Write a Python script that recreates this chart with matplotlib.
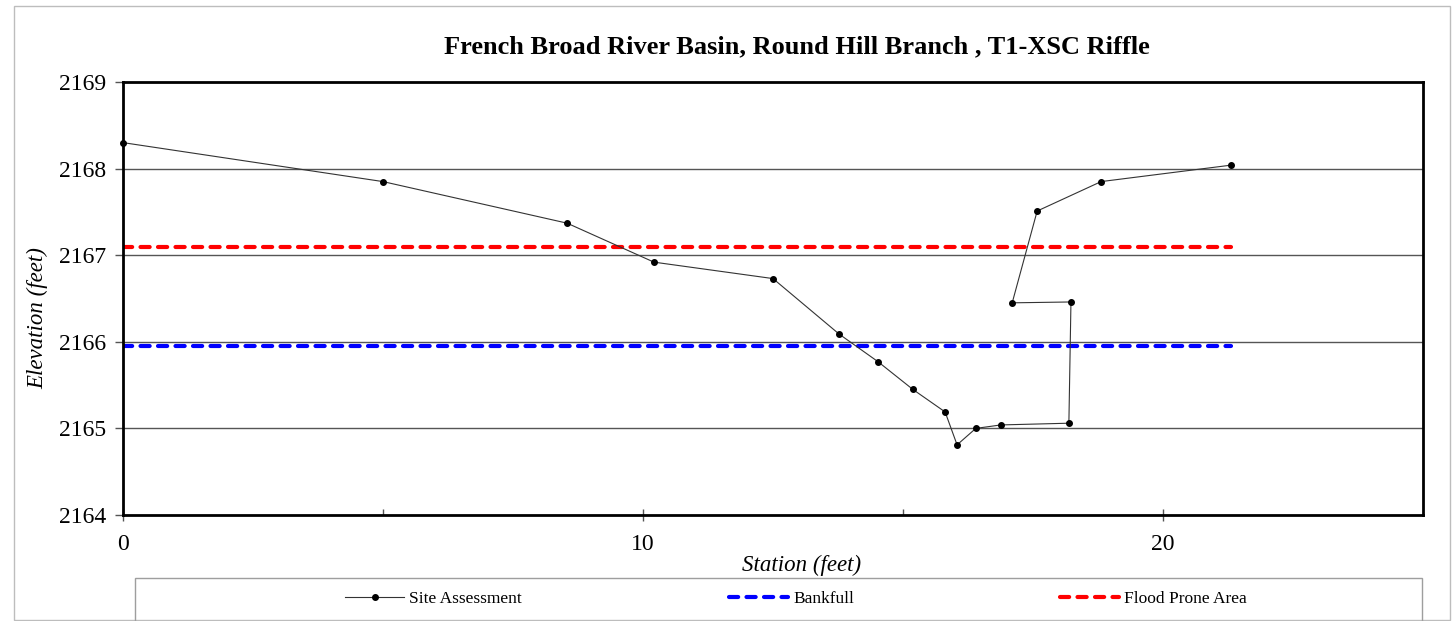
import matplotlib
matplotlib.use("Agg")
import matplotlib.pyplot as plt
from matplotlib.patches import Rectangle
from matplotlib.lines import Line2D

# Cross-section survey points (station, elevation)
station = [0.0, 5.0, 8.54, 10.21, 12.5, 13.77, 14.52, 15.19, 15.81, 16.04,
           16.40, 16.88, 18.19, 18.23, 17.10, 17.58, 18.81, 21.31]
elevation = [2168.30, 2167.85, 2167.37, 2166.92, 2166.73, 2166.09, 2165.77,
             2165.45, 2165.19, 2164.81, 2165.00, 2165.04, 2165.06, 2166.46,
             2166.45, 2167.51, 2167.85, 2168.04]

bankfull_elev = 2165.95
flood_prone_elev = 2167.09
level_span = [0.0, 21.31]

title = "French Broad River Basin, Round Hill Branch , T1-XSC Riffle"
x_label = "Station (feet)"
y_label = "Elevation (feet)"
y_ticks = [2164, 2165, 2166, 2167, 2168, 2169]
x_ticks = [0, 10, 20]
series_labels = ["Site Assessment", "Bankfull", "Flood Prone Area"]

plt.rcParams["font.family"] = ["Liberation Serif", "DejaVu Serif"]

W, H = 1453, 621
fig = plt.figure(figsize=(W / 100, H / 100), dpi=100)
ax = fig.add_axes([123 / W, 1 - 515 / H, (1423 - 123) / W, (515 - 82) / H])

# outer chart border
fig.patches.append(Rectangle((14 / W, 1 / H), (1450 - 14) / W, (620 - 6) / H,
                             transform=fig.transFigure, fill=False,
                             edgecolor="#bdbdbd", linewidth=1.0))

ax.set_xlim(0, 25)
ax.set_ylim(2164, 2169)
ax.set_yticks(y_ticks)
ax.set_xticks(x_ticks)
ax.set_xticks([5, 15], minor=True)

for y in y_ticks[1:-1]:
    ax.axhline(y, color="#555555", linewidth=1.0, zorder=1)

dash = dict(linewidth=3.0, linestyle=(0, (2.2, 2.0)), dash_capstyle="round")
site_style = dict(color="#333333", linewidth=0.8, marker="o", markersize=4,
                  markerfacecolor="black", markeredgecolor="black")

ax.plot(level_span, [bankfull_elev] * 2, color="#0000ff", zorder=2, **dash)
ax.plot(level_span, [flood_prone_elev] * 2, color="#ff0000", zorder=2, **dash)
ax.plot(station, elevation, zorder=3, clip_on=False, **site_style)

for s in ax.spines.values():
    s.set_linewidth(2.0)
    s.set_color("black")

ax.tick_params(axis="y", direction="out", length=6, width=1, labelsize=17,
               pad=6, color="#555555")
ax.tick_params(axis="x", which="major", direction="inout", length=9, width=1,
               labelsize=17, pad=9, color="#555555")
ax.tick_params(axis="x", which="minor", direction="in", length=4, width=1,
               color="#555555")

fig.text(797 / W, 1 - 47 / H, title, ha="center", va="center",
         fontsize=19, fontweight="bold")
fig.text(802 / W, 1 - 565 / H, x_label, ha="center", va="center",
         fontsize=16.5, style="italic")
fig.text(38 / W, 1 - 318 / H, y_label, ha="center", va="center",
         fontsize=16.5, style="italic", rotation=90)

# legend frame
fig.patches.append(Rectangle((135 / W, -0.01), (1422 - 135) / W, 0.01 + 43 / H,
                             transform=fig.transFigure, fill=False,
                             edgecolor="#9e9e9e", linewidth=1.0))

handles = [
    Line2D([], [], **site_style),
    Line2D([], [], color="#0000ff", **dash),
    Line2D([], [], color="#ff0000", **dash),
]
entry_x = [345, 729, 1060]
for h, lab, x0 in zip(handles, series_labels, entry_x):
    fig.legend([h], [lab], loc="center left",
               bbox_to_anchor=(x0 / W, 1 - 599 / H), frameon=False,
               fontsize=12.5, handlelength=3.4, handletextpad=0.3,
               borderpad=0, borderaxespad=0)

fig.savefig("out.png", dpi=100)
